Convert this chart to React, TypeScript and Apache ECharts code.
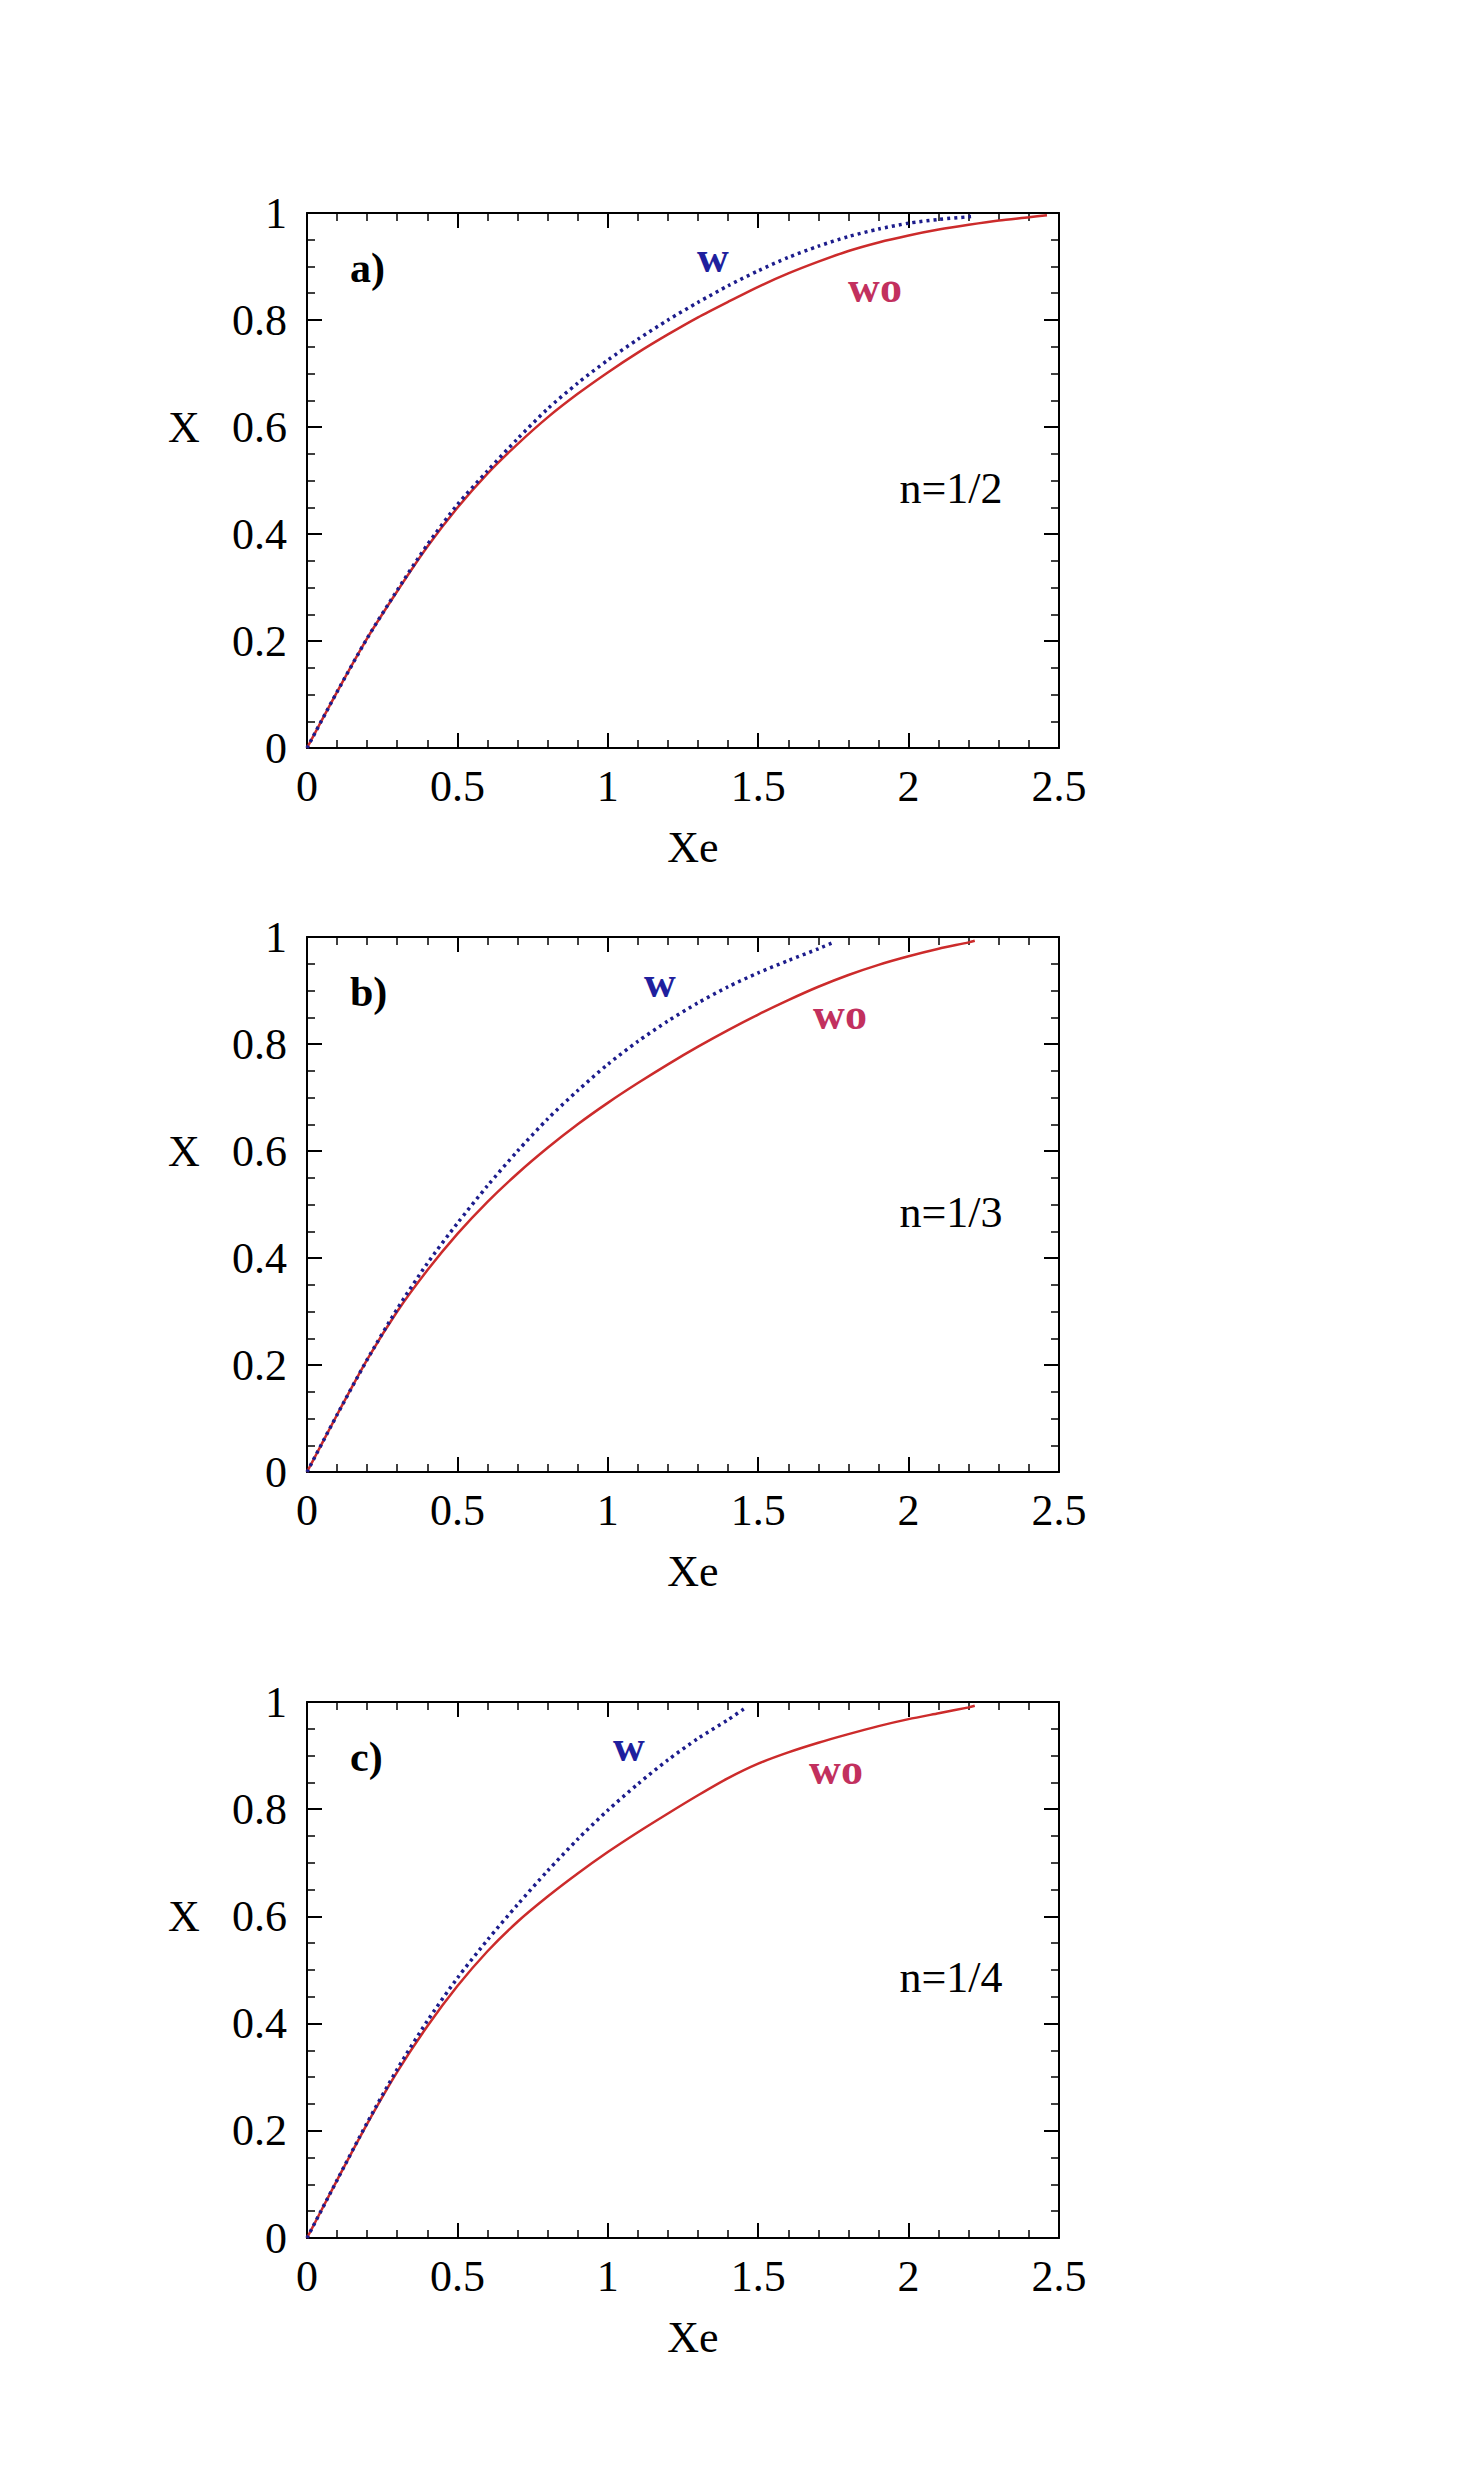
import React, { useEffect, useRef } from "react";
import * as echarts from "echarts";

// ---------- data ----------
const PANEL_LABELS = ["a)", "b)", "c)"];
const N_LABELS = ["n=1/2", "n=1/3", "n=1/4"];
const X_TICKS = [0, 0.5, 1, 1.5, 2, 2.5];
const Y_TICKS = [0, 0.2, 0.4, 0.6, 0.8, 1];

// panel a
const XA_WO = [0, 0.1, 0.2, 0.3, 0.4, 0.5, 0.6, 0.7, 0.8, 0.9, 1.0, 1.1, 1.2, 1.3, 1.4, 1.5, 1.6, 1.7, 1.8, 1.9, 2.0, 2.1, 2.2, 2.3, 2.4, 2.46];
const YA_WO = [0, 0.105, 0.205, 0.293, 0.376, 0.449, 0.513, 0.568, 0.618, 0.662, 0.702, 0.739, 0.773, 0.805, 0.834, 0.862, 0.887, 0.909, 0.929, 0.945, 0.958, 0.969, 0.978, 0.986, 0.992, 0.996];
const XA_W = [0, 0.1, 0.2, 0.3, 0.4, 0.5, 0.6, 0.7, 0.8, 0.9, 1.0, 1.1, 1.2, 1.3, 1.4, 1.5, 1.6, 1.7, 1.8, 1.9, 2.0, 2.1, 2.2, 2.22];
const YA_W = [0, 0.105, 0.205, 0.295, 0.38, 0.455, 0.518, 0.578, 0.634, 0.682, 0.725, 0.764, 0.8, 0.833, 0.864, 0.892, 0.917, 0.938, 0.956, 0.97, 0.981, 0.988, 0.993, 0.994];

// panel b
const XB_WO = [0, 0.1, 0.2, 0.3, 0.4, 0.5, 0.6, 0.7, 0.8, 0.9, 1.0, 1.1, 1.2, 1.3, 1.4, 1.5, 1.6, 1.7, 1.8, 1.9, 2.0, 2.1, 2.2, 2.22];
const YB_WO = [0, 0.107, 0.21, 0.3, 0.377, 0.445, 0.505, 0.558, 0.606, 0.65, 0.69, 0.727, 0.762, 0.795, 0.826, 0.855, 0.882, 0.907, 0.929, 0.948, 0.964, 0.978, 0.99, 0.993];
const XB_W = [0, 0.1, 0.2, 0.3, 0.4, 0.5, 0.6, 0.7, 0.8, 0.9, 1.0, 1.1, 1.2, 1.3, 1.4, 1.5, 1.6, 1.7, 1.75];
const YB_W = [0, 0.107, 0.21, 0.305, 0.39, 0.465, 0.535, 0.6, 0.66, 0.713, 0.762, 0.805, 0.843, 0.877, 0.907, 0.933, 0.956, 0.978, 0.99];

// panel c
const XC_WO = [0, 0.1, 0.2, 0.3, 0.4, 0.5, 0.6, 0.7, 0.8, 0.9, 1.0, 1.1, 1.2, 1.3, 1.4, 1.5, 1.6, 1.7, 1.8, 1.9, 2.0, 2.1, 2.2, 2.22];
const YC_WO = [0, 0.108, 0.213, 0.31, 0.395, 0.47, 0.535, 0.59, 0.637, 0.68, 0.72, 0.757, 0.792, 0.826, 0.858, 0.885, 0.906, 0.924, 0.94, 0.955, 0.968, 0.979, 0.99, 0.993];
const XC_W = [0, 0.1, 0.2, 0.3, 0.4, 0.5, 0.6, 0.7, 0.8, 0.9, 1.0, 1.1, 1.2, 1.3, 1.4, 1.46];
const YC_W = [0, 0.108, 0.215, 0.315, 0.405, 0.485, 0.556, 0.622, 0.685, 0.744, 0.798, 0.847, 0.892, 0.932, 0.967, 0.99];

const SERIES_DATA = [
  { wo: [XA_WO, YA_WO], w: [XA_W, YA_W] },
  { wo: [XB_WO, YB_WO], w: [XB_W, YB_W] },
  { wo: [XC_WO, YC_WO], w: [XC_W, YC_W] },
];

// ---------- layout ----------
const FONT = "'Liberation Serif', 'Times New Roman', Times, serif";
const GRID_LEFT = 307;
const GRID_WIDTH = 752;
const PANELS = [
  { top: 213, height: 535, w: [713, 257], wo: [875, 287] },
  { top: 937, height: 535, w: [660, 982], wo: [840, 1014] },
  { top: 1702, height: 536, w: [629, 1746], wo: [836, 1769] },
];
const RED = "#cc2b2b";
const BLUE = "#1c1c8c";
const WO_COLOR = "#c2305e";
const W_COLOR = "#1f1f9e";

function pairs(xs: number[], ys: number[]) {
  return xs.map((x, i) => [x, ys[i]]);
}

function buildOption() {
  const grid: any[] = [];
  const xAxis: any[] = [];
  const yAxis: any[] = [];
  const series: any[] = [];
  const graphic: any[] = [];

  const axisCommon = {
    axisLine: { show: true, onZero: false, lineStyle: { color: "#000", width: 2 } },
    axisTick: { show: true, inside: true, length: 15, lineStyle: { color: "#000", width: 2 } },
    minorTick: { show: true, length: 8, lineStyle: { color: "#000", width: 1.5 } },
    splitLine: { show: false },
    minorSplitLine: { show: false },
  };

  PANELS.forEach((p, i) => {
    grid.push({ left: GRID_LEFT, top: p.top, width: GRID_WIDTH, height: p.height, containLabel: false });
    const xBase = {
      ...axisCommon,
      gridIndex: i,
      type: "value",
      min: X_TICKS[0],
      max: X_TICKS[X_TICKS.length - 1],
      interval: X_TICKS[1] - X_TICKS[0],
      minorTick: { ...axisCommon.minorTick, splitNumber: 5 },
    };
    xAxis.push({
      ...xBase,
      position: "bottom",
      axisLabel: { show: true, margin: 16, fontSize: 44, fontFamily: FONT, color: "#000" },
    });
    xAxis.push({ ...xBase, position: "top", axisLabel: { show: false } });
    const yBase = {
      ...axisCommon,
      gridIndex: i,
      type: "value",
      min: Y_TICKS[0],
      max: Y_TICKS[Y_TICKS.length - 1],
      interval: Y_TICKS[1] - Y_TICKS[0],
      minorTick: { ...axisCommon.minorTick, splitNumber: 4 },
    };
    yAxis.push({
      ...yBase,
      position: "left",
      axisLabel: { show: true, margin: 20, fontSize: 44, fontFamily: FONT, color: "#000" },
    });
    yAxis.push({ ...yBase, position: "right", axisLabel: { show: false } });

    const d = SERIES_DATA[i];
    series.push({
      name: "wo",
      type: "line",
      xAxisIndex: 2 * i,
      yAxisIndex: 2 * i,
      data: pairs(d.wo[0], d.wo[1]),
      showSymbol: false,
      smooth: 0.25,
      lineStyle: { color: RED, width: 2.5 },
      z: 2,
    });
    series.push({
      name: "w",
      type: "line",
      xAxisIndex: 2 * i,
      yAxisIndex: 2 * i,
      data: pairs(d.w[0], d.w[1]),
      showSymbol: false,
      smooth: 0.25,
      lineStyle: { color: BLUE, width: 3.5, type: [3, 4] },
      z: 3,
    });

    const bottom = p.top + p.height;
    const y06 = bottom - 0.6 * p.height;
    const textBase = { fontFamily: FONT, fill: "#000" };
    graphic.push(
      { type: "text", style: { ...textBase, text: "X", x: 184, y: y06, fontSize: 44, textAlign: "center", textVerticalAlign: "middle" } },
      { type: "text", style: { ...textBase, text: "Xe", x: 693, y: bottom + 99, fontSize: 44, textAlign: "center", textVerticalAlign: "middle" } },
      { type: "text", style: { ...textBase, text: PANEL_LABELS[i], x: 350, y: p.top + 55, fontSize: 42, fontWeight: "bold", textAlign: "left", textVerticalAlign: "middle" } },
      { type: "text", style: { ...textBase, text: N_LABELS[i], x: 951, y: p.top + 275, fontSize: 44, textAlign: "center", textVerticalAlign: "middle" } },
      { type: "text", style: { ...textBase, fill: W_COLOR, text: "w", x: p.w[0], y: p.w[1], fontSize: 44, fontWeight: "bold", textAlign: "center", textVerticalAlign: "middle" } },
      { type: "text", style: { ...textBase, fill: WO_COLOR, text: "wo", x: p.wo[0], y: p.wo[1], fontSize: 44, fontWeight: "bold", textAlign: "center", textVerticalAlign: "middle" } }
    );
  });

  return {
    animation: false,
    backgroundColor: "#ffffff",
    textStyle: { fontFamily: FONT },
    grid,
    xAxis,
    yAxis,
    series,
    graphic,
  };
}

export default function App() {
  const ref = useRef<HTMLDivElement>(null);
  useEffect(() => {
    if (!ref.current) return;
    const chart = echarts.init(ref.current, undefined, { renderer: "svg" });
    chart.setOption(buildOption() as any);
    return () => chart.dispose();
  }, []);
  return (
    <div
      ref={ref}
      style={{ position: "absolute", left: 0, top: 0, width: 1481, height: 2489, background: "#fff" }}
    />
  );
}
